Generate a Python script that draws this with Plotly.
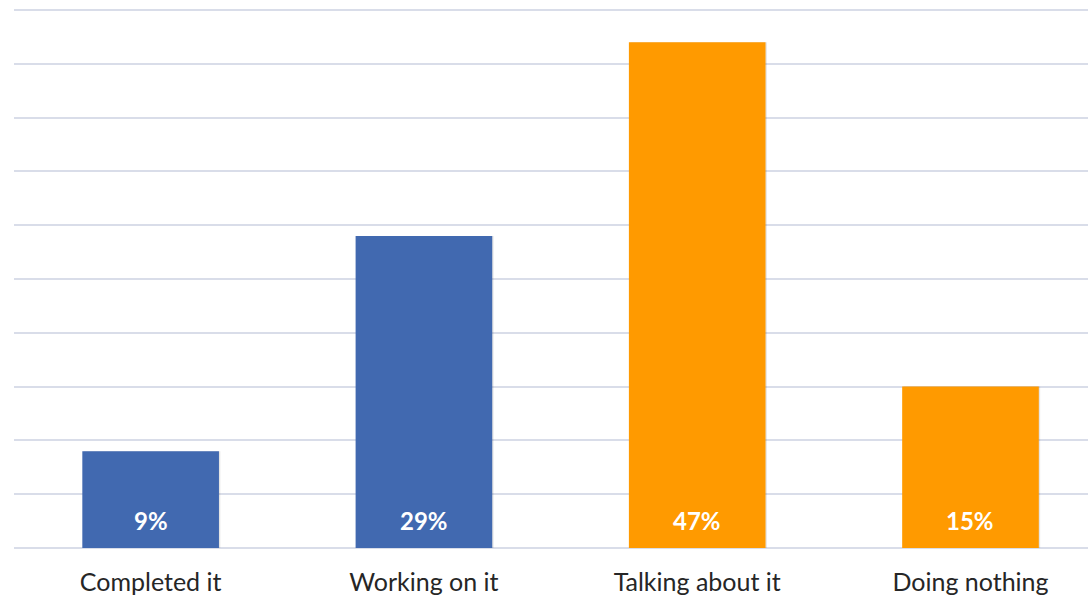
import plotly.graph_objects as go

# Share of respondents by stage of progress
categories = ["Completed it", "Working on it", "Talking about it", "Doing nothing"]
values = [9, 29, 47, 15]
bar_colors = ["#4169B0", "#4169B0", "#FF9A00", "#FF9A00"]
y_ticks = [0, 5, 10, 15, 20, 25, 30, 35, 40, 45, 50]

x_idx = list(range(len(categories)))

fig = go.Figure()

# soft drop shadow behind each bar
fig.add_trace(go.Bar(
    x=x_idx, y=values, width=0.5, offset=-0.245,
    marker=dict(color="rgba(0,0,0,0.10)", line=dict(width=0)),
    hoverinfo="skip", showlegend=False,
))
fig.add_trace(go.Bar(
    x=x_idx, y=values, width=0.5, offset=-0.25,
    marker=dict(color=bar_colors, line=dict(width=0)),
    showlegend=False,
))

for i, v in enumerate(values):
    fig.add_annotation(
        x=i, y=0, text=f"<b>{v}%</b>", showarrow=False,
        yanchor="middle", yshift=28,
        font=dict(family="Lato", size=24, color="white"),
    )

fig.update_layout(
    width=1088, height=596,
    margin=dict(l=14, r=0, t=8, b=48),
    paper_bgcolor="white", plot_bgcolor="white",
    barmode="overlay",
    xaxis=dict(
        range=[-0.5, 3.43], automargin=False,
        tickvals=x_idx, ticktext=categories,
        showgrid=False, zeroline=False, showline=False,
        ticks="outside", ticklen=0, ticklabelstandoff=12,
        tickfont=dict(family="Lato", size=25, color="#262626"),
    ),
    yaxis=dict(
        range=[0, 50.19], automargin=False,
        tickvals=y_ticks, showticklabels=False,
        showgrid=True, gridcolor="#D9DDE9", gridwidth=2,
        zeroline=True, zerolinecolor="#D9DDE9", zerolinewidth=2,
        showline=False,
    ),
)

fig.write_html("out.html")
